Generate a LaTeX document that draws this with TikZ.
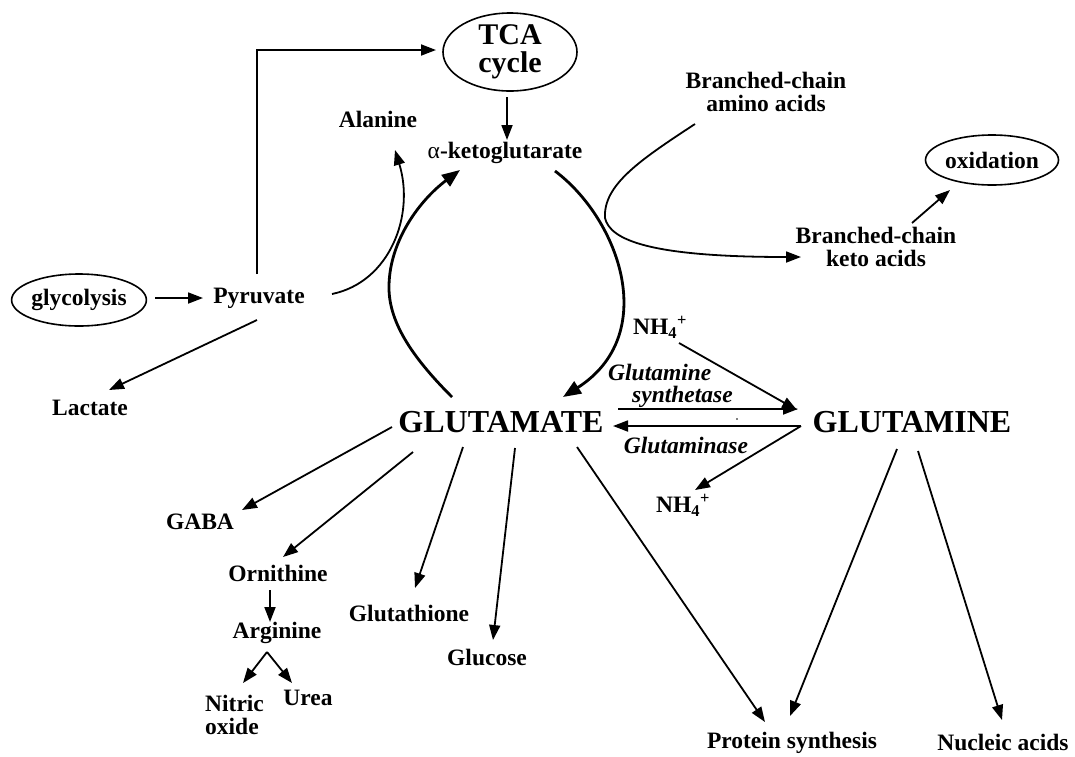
\documentclass[tikz,border=0pt]{standalone}
\usepackage{fontspec}
\setmainfont{Liberation Serif}
\usetikzlibrary{arrows.meta,shapes.geometric}
\begin{document}
\begin{tikzpicture}[x=1pt,y=-1pt,
  lbl/.style={font=\fontsize{23.5}{23}\selectfont\bfseries, inner sep=0pt, align=center},
  big/.style={font=\fontsize{32}{32}\selectfont\bfseries, inner sep=0pt},
  ital/.style={font=\fontsize{23.5}{22}\selectfont\bfseries\itshape, inner sep=0pt},
  oval/.style={draw, ellipse, line width=1.6pt, inner sep=0pt},
  arr/.style={line width=1.8pt, -{Triangle[length=15pt,width=11pt]}},
  thk/.style={line width=2.8pt, -{Triangle[length=18pt,width=14pt]}}]
\useasboundingbox (0,0) rectangle (1075,756);

% nodes
\node[oval, minimum width=134pt, minimum height=78pt, font=\fontsize{30}{28}\selectfont\bfseries, align=center] (tca) at (510,52) {TCA\\cycle};
\node[lbl] (akg) at (505,153) {{\mdseries α}-ketoglutarate};
\node[lbl] (alanine) at (378,119) {Alanine};
\node[lbl] (pyruvate) at (259,298) {Pyruvate};
\node[oval, minimum width=132pt, minimum height=52pt, lbl] (glycolysis) at (79,300) {glycolysis};
\node[lbl] (lactate) at (90,408) {Lactate};
\node[lbl] (bcaa) at (766,92) {Branched-chain\\amino acids};
\node[lbl] (bcka) at (876,247) {Branched-chain\\keto acids};
\node[oval, minimum width=133pt, minimum height=50pt, lbl] (oxidation) at (992,160) {oxidation};
\node[big] (glutamate) at (501,422) {GLUTAMATE};
\node[big] (glutamine) at (912,422) {GLUTAMINE};
\node[lbl] (nhtop) at (660,327) {NH\textsubscript{4}\textsuperscript{+}};
\node[lbl] (nhbot) at (683,505) {NH\textsubscript{4}\textsuperscript{+}};
\node[ital, align=left, anchor=west] (gs) at (608,386) {Glutamine\\\hspace*{24pt}synthetase};
\node[ital] (gase) at (686,445) {Glutaminase};
\node[lbl] (gaba) at (200,522) {GABA};
\node[lbl] (ornithine) at (278,573) {Ornithine};
\node[lbl] (arginine) at (277,633) {Arginine};
\node[lbl, align=left, anchor=west] (nitric) at (205,715) {Nitric\\oxide};
\node[lbl] (urea) at (308,698) {Urea};
\node[lbl] (glutathione) at (409,613) {Glutathione};
\node[lbl] (glucose) at (487,657) {Glucose};
\node[lbl] (protein) at (792,743) {Protein synthesis};
\node[lbl] (nucleic) at (1003,742) {Nucleic acids};

% top part
\draw[arr] ([shift={(-2,-24)}]pyruvate.center) |- ([shift={(-74,-2)}]tca.center);
\draw[arr] ([shift={(-3,45)}]tca.center) -- ([shift={(2,-13)}]akg.center);
\draw[arr] ([shift={(76,-2)}]glycolysis.center) -- ([shift={(-56,0)}]pyruvate.center);
\draw[arr] ([shift={(-2,22)}]pyruvate.center) -- ([shift={(19,-18)}]lactate.center);
\draw[arr] ([shift={(73,-4)}]pyruvate.center) .. controls (390,282) and (415,215) .. ([shift={(17,31)}]alanine.center);

% cycle
\draw[thk] ([shift={(-49,-25)}]glutamate.center) .. controls (410,355) and (388,320) .. (389,285)
   .. controls (390,240) and (420,200) .. ([shift={(-45,17)}]akg.center);
\draw[thk] ([shift={(50,18)}]akg.center) .. controls (620,220) and (660,335) .. ([shift={(62,-25)}]glutamate.center);

% branched chain
\draw[arr] ([shift={(-71,32)}]bcaa.center) .. controls (640,160) and (603,185) .. (605,218)
   .. controls (610,240) and (650,257) .. ([shift={(-75,10)}]bcka.center);
\draw[arr] ([shift={(36,-24)}]bcka.center) -- ([shift={(-42,30)}]oxidation.center);

% glutamate <-> glutamine
\draw[arr] ([shift={(117,-13)}]glutamate.center) -- ([shift={(-114,-13)}]glutamine.center);
\draw[arr] ([shift={(-111,4)}]glutamine.center) -- ([shift={(112,4)}]glutamate.center);
\draw[arr] ([shift={(19,16)}]nhtop.center) -- ([shift={(-115,-12)}]glutamine.center);
\draw[arr] ([shift={(-111,4)}]glutamine.center) -- ([shift={(12,-15)}]nhbot.center);
\fill ([shift={(-175,-3)}]glutamine.center) circle (0.9pt);

% glutamate products
\draw[arr] ([shift={(-109,5)}]glutamate.center) -- ([shift={(42,-12)}]gaba.center);
\draw[arr] ([shift={(-88,30)}]glutamate.center) -- ([shift={(5,-16)}]ornithine.center);
\draw[arr] ([shift={(-38,25)}]glutamate.center) -- ([shift={(6,-25)}]glutathione.center);
\draw[arr] ([shift={(14,26)}]glutamate.center) -- ([shift={(6,-17)}]glucose.center);
\draw[arr] ([shift={(76,25)}]glutamate.center) -- ([shift={(-27,-21)}]protein.center);
\draw[arr] ([shift={(-15,27)}]glutamine.center) -- ([shift={(-2,-27)}]protein.center);
\draw[arr] ([shift={(6,29)}]glutamine.center) -- ([shift={(-1,-22)}]nucleic.center);

% ornithine / arginine
\draw[arr] ([shift={(-8,17)}]ornithine.center) -- ([shift={(-7,-11)}]arginine.center);
\draw[arr] ([shift={(-10,19)}]arginine.center) -- ([shift={(38,-32)}]nitric.west);
\draw[arr] ([shift={(-10,19)}]arginine.center) -- ([shift={(-16,-15)}]urea.center);
\end{tikzpicture}
\end{document}
